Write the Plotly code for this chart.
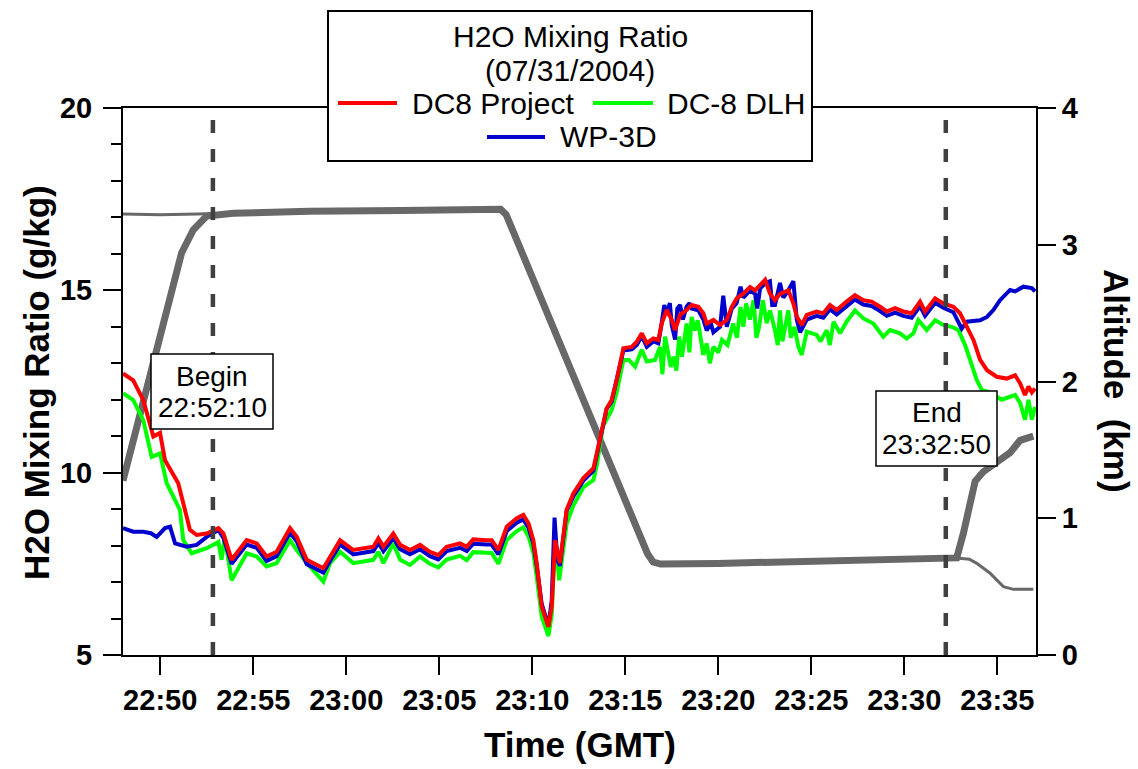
import pandas as pd
import plotly.graph_objects as go

# ---------------- data (minutes after 22:48:00 GMT, 07/31/2004) ----------------
base_time = pd.Timestamp("2004-07-31 22:48:00")

red_t = [0, 0.55, 1.09, 1.63, 1.99, 2.26, 2.97, 3.24, 3.6, 3.96, 4.5, 5.13, 5.4, 5.84, 6.65, 7.19,
         7.72, 8.26, 8.98, 9.34, 9.88, 10.77, 11.13, 11.67, 12.38, 13.46, 13.73, 14.0, 14.53, 14.9,
         15.43, 15.97, 16.5, 16.95, 17.4, 18.12, 18.48, 18.83, 19.55, 19.82, 20.18, 20.63, 21.17,
         21.52, 21.8, 22.06, 22.24, 22.51, 22.87, 23.05, 23.23, 23.49, 23.85, 24.21, 24.75, 25.29,
         25.47, 25.74, 26.0, 26.27, 26.54, 26.9, 27.35, 27.62, 27.89, 28.16, 28.51, 28.78, 28.96,
         29.23, 29.5, 29.68, 29.95, 30.3, 30.57, 30.93, 31.2, 31.38, 31.74, 32.1, 32.46, 32.73,
         32.99, 33.35, 33.71, 33.98, 34.25, 34.52, 34.78, 35.05, 35.32, 35.77, 36.04, 36.22, 36.49,
         36.76, 37.29, 37.65, 38.01, 38.37, 38.9, 39.35, 39.8, 40.25, 40.7, 41.06, 41.51, 41.95,
         42.4, 42.85, 43.12, 43.66, 44.1, 44.64, 45.0, 45.36, 45.72, 46.08, 46.45, 46.97, 47.51,
         47.96, 48.23, 48.49, 48.68, 48.86, 49.03]
red_v = [12.72, 12.53, 11.99, 10.99, 11.09, 10.34, 9.71, 9.16, 8.43, 8.29, 8.33, 8.48, 8.33, 7.61,
         8.15, 8.06, 7.70, 7.83, 8.48, 8.24, 7.61, 7.38, 7.70, 8.15, 7.88, 7.97, 8.20, 7.97, 8.33,
         8.02, 7.88, 8.02, 7.83, 7.74, 7.97, 8.06, 7.97, 8.17, 8.15, 8.15, 7.88, 8.52, 8.75, 8.84,
         8.61, 8.15, 7.52, 6.33, 5.77, 6.33, 8.15, 7.52, 8.98, 9.43, 9.85, 10.12, 10.53, 11.17,
         11.76, 11.99, 12.54, 13.41, 13.45, 13.59, 13.82, 13.55, 13.68, 13.64, 14.09, 14.46, 14.19,
         13.91, 14.33, 14.46, 14.60, 14.55, 14.37, 14.09, 14.19, 14.05, 14.19, 14.55, 14.78, 14.91,
         15.09, 15.00, 15.15, 15.29, 14.91, 14.73, 14.90, 15.00, 14.64, 14.28, 14.05, 14.33, 14.42,
         14.37, 14.60, 14.46, 14.69, 14.87, 14.73, 14.69, 14.55, 14.42, 14.51, 14.42, 14.37, 14.69,
         14.42, 14.78, 14.64, 14.55, 14.37, 14.00, 13.64, 13.09, 12.81, 12.63, 12.58, 12.67, 12.45,
         12.13, 12.36, 12.20, 12.31]

blue_t = [0, 0.55, 1.09, 1.5, 1.81, 2.26, 2.53, 2.8, 3.42, 3.96, 4.5, 5.13, 5.4, 5.84, 6.65, 7.19,
          7.72, 8.26, 8.98, 9.34, 9.88, 10.77, 11.13, 11.67, 12.38, 13.46, 13.73, 14.0, 14.53, 14.9,
          15.43, 15.97, 16.5, 16.95, 17.4, 18.12, 18.48, 18.83, 19.55, 19.82, 20.18, 20.63, 21.17,
          21.52, 21.8, 22.06, 22.24, 22.51, 22.87, 23.05, 23.2, 23.35, 23.49, 23.85, 24.21, 24.75,
          25.29, 25.47, 25.74, 26.0, 26.27, 26.54, 26.9, 27.35, 27.62, 27.89, 28.16, 28.51, 28.78,
          28.96, 29.1, 29.23, 29.4, 29.5, 29.68, 29.8, 29.95, 30.1, 30.3, 30.45, 30.57, 30.93, 31.2,
          31.38, 31.6, 31.74, 32.1, 32.27, 32.46, 32.73, 32.99, 33.2, 33.35, 33.71, 33.98, 34.1,
          34.25, 34.52, 34.78, 34.9, 35.05, 35.32, 35.5, 35.77, 36.04, 36.22, 36.4, 36.76, 37.29,
          37.65, 38.01, 38.37, 38.9, 39.35, 39.8, 40.25, 40.7, 41.06, 41.51, 41.95, 42.4, 42.85,
          43.12, 43.66, 44.1, 44.64, 45.09, 45.36, 46.08, 46.45, 46.79, 47.15, 47.69, 47.96, 48.4,
          48.86, 49.03]
blue_v = [8.48, 8.38, 8.38, 8.34, 8.24, 8.48, 8.52, 8.06, 7.97, 8.02, 8.24, 8.43, 8.21, 7.50, 8.03,
          7.94, 7.58, 7.71, 8.36, 8.12, 7.49, 7.26, 7.58, 8.03, 7.76, 7.85, 8.08, 7.85, 8.21, 7.90,
          7.76, 7.90, 7.71, 7.62, 7.85, 7.94, 7.85, 8.05, 8.03, 8.03, 7.76, 8.40, 8.63, 8.72, 8.49,
          8.05, 7.45, 6.40, 5.80, 6.50, 8.77, 7.60, 7.45, 8.95, 9.35, 9.78, 10.05, 10.50, 11.15,
          11.75, 11.95, 12.59, 13.35, 13.38, 13.50, 13.75, 13.45, 13.60, 13.55, 14.10, 14.60, 14.35,
          14.65, 14.05, 13.65, 14.50, 14.60, 14.20, 14.55, 14.65, 14.50, 14.45, 14.20, 13.90, 14.10,
          13.85, 14.00, 14.85, 14.00, 14.50, 14.65, 15.10, 14.80, 15.00, 14.90, 14.50, 15.05, 15.20,
          15.25, 14.60, 14.60, 15.20, 14.80, 15.00, 15.25, 14.20, 13.85, 14.20, 14.30, 14.25, 14.48,
          14.34, 14.57, 14.75, 14.61, 14.57, 14.43, 14.30, 14.39, 14.30, 14.25, 14.57, 14.30, 14.66,
          14.52, 14.40, 13.95, 14.14, 14.18, 14.27, 14.46, 14.73, 15.01, 14.97, 15.10, 15.06, 14.97]

green_t = [0, 0.55, 1.09, 1.54, 1.99, 2.35, 2.8, 3.06, 3.24, 3.69, 4.5, 5.13, 5.3, 5.47, 5.84, 6.65,
           7.19, 7.72, 8.26, 8.98, 9.34, 9.88, 10.77, 11.13, 11.67, 12.38, 13.46, 13.73, 14.0, 14.53,
           14.9, 15.43, 15.97, 16.5, 16.95, 17.4, 18.12, 18.48, 18.83, 19.55, 19.82, 20.18, 20.63,
           21.17, 21.52, 21.8, 22.06, 22.24, 22.51, 22.87, 23.05, 23.23, 23.45, 23.85, 24.21, 24.75,
           25.29, 25.47, 25.8, 26.27, 26.54, 26.9, 27.2, 27.53, 27.89, 28.16, 28.6, 28.87, 29.0,
           29.14, 29.3, 29.45, 29.6, 29.75, 29.9, 30.05, 30.3, 30.45, 30.57, 30.75, 30.9, 31.2,
           31.38, 31.55, 31.74, 32.0, 32.2, 32.5, 32.8, 33.0, 33.2, 33.35, 33.5, 33.7, 33.9, 34.05,
           34.2, 34.4, 34.6, 34.78, 35.05, 35.2, 35.32, 35.45, 35.77, 35.9, 36.1, 36.31, 36.49,
           36.76, 37.29, 37.5, 37.83, 38.0, 38.2, 38.55, 38.9, 39.35, 39.8, 40.34, 40.87, 41.24,
           41.77, 42.13, 42.49, 42.76, 43.21, 43.66, 44.1, 44.55, 44.91, 45.27, 45.54, 45.9, 46.17,
           46.6, 47.24, 47.69, 47.96, 48.23, 48.49, 48.68, 48.86, 49.03]
green_v = [12.18, 11.99, 11.44, 10.43, 10.53, 9.71, 9.25, 8.98, 8.15, 7.79, 7.93, 8.10, 7.61, 8.24,
           7.05, 7.79, 7.70, 7.43, 7.52, 8.15, 7.88, 7.52, 7.01, 7.52, 7.83, 7.52, 7.61, 7.83, 7.52,
           8.06, 7.61, 7.47, 7.70, 7.50, 7.40, 7.62, 7.72, 7.60, 7.82, 7.80, 7.80, 7.50, 8.15, 8.40,
           8.50, 8.25, 7.80, 7.15, 6.05, 5.52, 6.10, 8.25, 7.05, 8.60, 9.10, 9.60, 9.80, 10.20, 11.27,
           11.72, 12.20, 13.09, 13.09, 12.91, 13.37, 13.05, 13.09, 13.45, 12.70, 13.73, 13.27, 12.90,
           13.18, 12.80, 13.73, 13.18, 14.09, 13.30, 14.27, 13.90, 14.18, 13.23, 13.54, 13.00, 13.45,
           13.30, 13.64, 13.50, 14.09, 13.70, 14.54, 14.00, 14.64, 14.20, 14.73, 13.70, 14.00, 14.73,
           14.10, 14.45, 13.91, 13.50, 14.45, 13.60, 14.45, 13.70, 14.00, 13.45, 13.23, 13.87, 13.78,
           13.60, 13.91, 13.50, 14.14, 13.82, 14.14, 14.45, 14.23, 14.09, 13.73, 13.91, 13.82, 13.68,
           13.82, 14.18, 13.91, 14.18, 14.05, 14.00, 13.91, 13.50, 13.09, 12.54, 12.27, 12.20, 12.00,
           12.09, 12.13, 11.91, 11.45, 12.00, 11.45, 11.80]

# altitude (km): DC-8 (thick) and WP-3D (thin)
alt_dc8_t = [0, 0.73, 1.45, 2.35, 3.15, 3.78, 4.5, 5.93, 10, 15, 20.3, 20.6, 28.2, 28.5, 28.9, 32,
             36, 40, 44.2, 44.82, 45.18, 45.54, 45.81, 46.25, 47.24, 47.69, 48.23, 48.94]
alt_dc8_v = [1.275, 1.67, 2.03, 2.50, 2.94, 3.11, 3.21, 3.23, 3.245, 3.25, 3.26, 3.22, 0.74, 0.68,
             0.665, 0.67, 0.68, 0.69, 0.70, 0.71, 0.89, 1.13, 1.27, 1.34, 1.43, 1.48, 1.57, 1.60]
alt_p3_t = [0, 2, 4, 5.93, 10, 15, 20.3, 20.6, 28.2, 28.5, 28.9, 32, 36, 40, 44.2, 44.82, 45.5, 45.9,
            46.6, 47.33, 47.87, 48.94]
alt_p3_v = [3.225, 3.22, 3.225, 3.23, 3.245, 3.25, 3.26, 3.22, 0.74, 0.68, 0.665, 0.67, 0.68, 0.69,
            0.70, 0.71, 0.70, 0.67, 0.60, 0.50, 0.48, 0.48]

series_names = ["DC8 Project", "DC-8 DLH", "WP-3D"]
series_colors = ["#ff0000", "#00ff00", "#0000cc"]
legend_title = ["H2O Mixing Ratio", "(07/31/2004)"]

event_times = ["2004-07-31 22:52:50", "2004-07-31 23:32:14"]
event_labels = [("Begin", "22:52:10"), ("End", "23:32:50")]

x_range = ["2004-07-31 22:48:00", "2004-07-31 23:37:05"]


def tt(mins):
    return base_time + pd.to_timedelta(mins, unit="min")


FONT = "Liberation Sans, Arial, sans-serif"
W, H = 1138, 769
L, R, T, B = 123, 1036, 108, 655


def px(x):
    return (x - L) / (R - L)


def py(y):
    return (B - y) / (B - T)


fig = go.Figure()
# altitude traces (primary y axis, on the right) drawn first -> underneath
fig.add_trace(go.Scatter(x=tt(alt_p3_t), y=alt_p3_v, mode="lines", yaxis="y",
                         line=dict(color="#686868", width=3), name="WP-3D altitude",
                         showlegend=False))
fig.add_trace(go.Scatter(x=tt(alt_dc8_t), y=alt_dc8_v, mode="lines", yaxis="y",
                         line=dict(color="#686868", width=7), name="DC-8 altitude",
                         showlegend=False))
# H2O traces (overlaying axis y2, left)
fig.add_trace(go.Scatter(x=tt(green_t), y=green_v, mode="lines", yaxis="y2",
                         line=dict(color=series_colors[1], width=4), name=series_names[1],
                         showlegend=False))
fig.add_trace(go.Scatter(x=tt(blue_t), y=blue_v, mode="lines", yaxis="y2",
                         line=dict(color=series_colors[2], width=4), name=series_names[2],
                         showlegend=False))
fig.add_trace(go.Scatter(x=tt(red_t), y=red_v, mode="lines", yaxis="y2",
                         line=dict(color=series_colors[0], width=4), name=series_names[0],
                         showlegend=False))

shapes = []
annotations = []

# dashed event lines
for et in event_times:
    shapes.append(dict(type="line", xref="x", yref="paper", x0=et, x1=et, y0=0, y1=0.99,
                       line=dict(color="#404040", width=4.5, dash="13px,16px"), layer="above"))

# event boxes
boxes = [(151, 273, 354, 429), (876, 997, 391, 466)]
for (x0, x1, y0, y1), (l1, l2) in zip(boxes, event_labels):
    shapes.append(dict(type="rect", xref="paper", yref="paper", x0=px(x0), x1=px(x1),
                       y0=py(y1), y1=py(y0), fillcolor="white",
                       line=dict(color="black", width=1.5), layer="above"))
    cx = px((x0 + x1) / 2)
    annotations.append(dict(text=l1, x=cx, y=py(y0 + 22), xref="paper", yref="paper",
                            showarrow=False, xanchor="center", yanchor="middle",
                            font=dict(family=FONT, size=28, color="black")))
    annotations.append(dict(text=l2, x=cx, y=py(y0 + 53), xref="paper", yref="paper",
                            showarrow=False, xanchor="center", yanchor="middle",
                            font=dict(family=FONT, size=28, color="black")))

# legend box (manual)
shapes.append(dict(type="rect", xref="paper", yref="paper", x0=px(328), x1=px(812),
                   y0=py(161), y1=py(11), fillcolor="white",
                   line=dict(color="black", width=2), layer="above"))
annotations.append(dict(text=legend_title[0], x=px(570), y=py(36), xref="paper", yref="paper",
                        showarrow=False, xanchor="center", yanchor="middle",
                        font=dict(family=FONT, size=30, color="black")))
annotations.append(dict(text=legend_title[1], x=px(570), y=py(70), xref="paper", yref="paper",
                        showarrow=False, xanchor="center", yanchor="middle",
                        font=dict(family=FONT, size=30, color="black")))
leg_items = [(338, 397, 410, 103), (593, 653, 665, 103), (487, 545, 558, 137)]
for (lx0, lx1, tx, ly), name, col in zip(leg_items, series_names, series_colors):
    shapes.append(dict(type="line", xref="paper", yref="paper", x0=px(lx0), x1=px(lx1),
                       y0=py(ly), y1=py(ly), line=dict(color=col, width=4), layer="above"))
    annotations.append(dict(text=name, x=px(tx), y=py(ly), xref="paper", yref="paper",
                            showarrow=False, xanchor="left", yanchor="middle",
                            font=dict(family=FONT, size=30, color="black")))

# axis titles
annotations.append(dict(text="<b>H2O Mixing Ratio (g/kg)</b>", x=px(36), y=py(383),
                        xref="paper", yref="paper", showarrow=False, textangle=-90,
                        xanchor="center", yanchor="middle",
                        font=dict(family=FONT, size=35, color="black")))
annotations.append(dict(text="<b>Altitude&nbsp; (km)</b>", x=px(1117), y=py(381),
                        xref="paper", yref="paper", showarrow=False, textangle=90,
                        xanchor="center", yanchor="middle",
                        font=dict(family=FONT, size=35, color="black")))
annotations.append(dict(text="<b>Time (GMT)</b>", x=px(580), y=py(744),
                        xref="paper", yref="paper", showarrow=False,
                        xanchor="center", yanchor="middle",
                        font=dict(family=FONT, size=35, color="black")))

tickfont = dict(family=FONT, size=29, color="black", weight="bold")

fig.update_layout(
    width=W, height=H,
    margin=dict(l=L, r=W - R, t=T, b=H - B, pad=0),
    paper_bgcolor="white", plot_bgcolor="white",
    showlegend=False,
    xaxis=dict(type="date", range=x_range, tickformat="%H:%M", dtick=300000,
               tick0="2004-07-31 22:50:00", ticks="outside", ticklen=18, tickwidth=2,
               tickcolor="black", showline=True, linewidth=2, linecolor="black", mirror=True,
               showgrid=False, zeroline=False, tickfont=tickfont),
    yaxis=dict(range=[0, 4], side="right", tickvals=[0, 1, 2, 3, 4], ticks="outside",
               ticklen=18, tickwidth=2, tickcolor="black", showline=True, linewidth=2,
               linecolor="black", showgrid=False, zeroline=False, tickfont=tickfont),
    yaxis2=dict(range=[5, 20], side="left", overlaying="y", tickvals=[5, 10, 15, 20],
                ticks="outside", ticklen=18, tickwidth=2, tickcolor="black", showline=True,
                linewidth=2, linecolor="black", showgrid=False, zeroline=False,
                tickfont=tickfont, ticklabelstandoff=5,
                minor=dict(ticks="outside", ticklen=10, tickwidth=2, tickcolor="black",
                           dtick=1, tick0=5, showgrid=False)),
    shapes=shapes,
    annotations=annotations,
)

fig.write_html("out.html", config={"displayModeBar": False},
               post_script="document.body.style.margin='0px';document.body.style.overflow='hidden';")
